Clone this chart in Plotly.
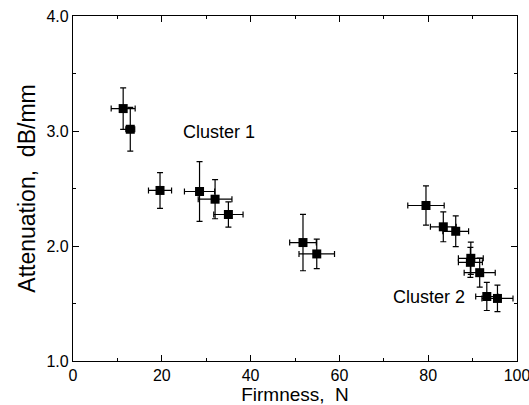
import plotly.graph_objects as go

firmness = [11.3, 12.9, 19.6, 28.5, 32.0, 35.0, 51.8, 54.9, 79.5, 83.4, 86.2, 89.6, 89.5, 91.6, 93.2, 95.6]
attenuation = [3.195, 3.015, 2.483, 2.474, 2.407, 2.274, 2.03, 1.931, 2.352, 2.167, 2.128, 1.893, 1.858, 1.768, 1.561, 1.544]
firmness_err = [2.7, 1.0, 2.6, 3.4, 3.8, 3.3, 3.0, 4.0, 4.1, 2.9, 2.9, 2.8, 2.7, 3.5, 2.5, 3.5]
attenuation_err = [0.18, 0.19, 0.155, 0.26, 0.17, 0.11, 0.245, 0.128, 0.17, 0.13, 0.134, 0.14, 0.13, 0.126, 0.122, 0.115]

font_family = "Liberation Sans, Arial, sans-serif"

fig = go.Figure()
fig.add_trace(go.Scatter(
    x=firmness, y=attenuation, mode="markers",
    marker=dict(symbol="square", size=9, color="black"),
    error_x=dict(type="data", array=firmness_err, color="black", thickness=1.2, width=3),
    error_y=dict(type="data", array=attenuation_err, color="black", thickness=1.2, width=3),
    showlegend=False,
))

fig.add_annotation(x=32.8, y=2.99, text="Cluster 1", showarrow=False,
                   font=dict(family=font_family, size=18, color="black"))
fig.add_annotation(x=80.2, y=1.553, text="Cluster 2", showarrow=False,
                   font=dict(family=font_family, size=18, color="black"))

axis_common = dict(
    showline=True, linecolor="black", linewidth=1.2, mirror="allticks",
    ticks="inside", ticklen=6, tickwidth=1, tickcolor="black",
    showgrid=False, zeroline=False, automargin=False,
    ticklabeloverflow="allow",
    tickfont=dict(family=font_family, size=16, color="black"),
)

fig.update_xaxes(range=[0, 100], dtick=20, tick0=0,
                 minor=dict(ticks="inside", ticklen=3, dtick=10, tickcolor="black", showgrid=False),
                 title=dict(text="Firmness,&nbsp; N", font=dict(family=font_family, size=19, color="black"), standoff=6),
                 **axis_common)
fig.update_yaxes(range=[1.0, 4.0], dtick=1.0, tick0=1.0, tickformat=".1f",
                 minor=dict(ticks="inside", ticklen=3, dtick=0.5, tickcolor="black", showgrid=False),
                 title=dict(text="Attenuation,&nbsp; dB/mm", font=dict(family=font_family, size=23, color="black"), standoff=4),
                 **axis_common)

fig.update_layout(
    width=529, height=405,
    margin=dict(l=73, r=12, t=16, b=44),
    plot_bgcolor="white", paper_bgcolor="white",
)

fig.write_html("out.html")
